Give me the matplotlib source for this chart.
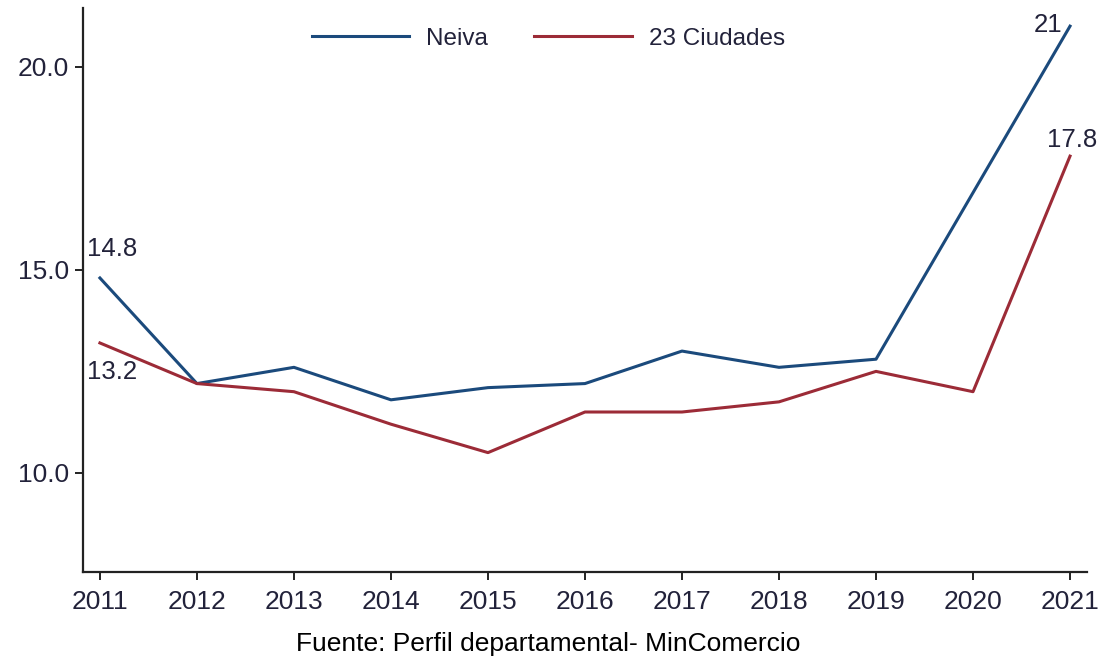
import matplotlib
matplotlib.use("Agg")
import matplotlib.pyplot as plt

# datos
years = [2011, 2012, 2013, 2014, 2015, 2016, 2017, 2018, 2019, 2020, 2021]
neiva = [14.8, 12.2, 12.6, 11.8, 12.1, 12.2, 13.0, 12.6, 12.8, 16.9, 21.0]
ciudades = [13.2, 12.2, 12.0, 11.2, 10.5, 11.5, 11.5, 11.75, 12.5, 12.0, 17.8]
yticks = [10.0, 15.0, 20.0]

plt.rcParams['font.family'] = ['Liberation Sans', 'DejaVu Sans']

fig = plt.figure(figsize=(11.03, 6.56), dpi=100)
ax = fig.add_axes([0.0752, 0.128, 0.9103, 0.86])

azul = '#1b4a7c'
rojo = '#9c2b37'
txt = '#22223a'

ax.plot(years, neiva, color=azul, lw=2.2, label='Neiva')
ax.plot(years, ciudades, color=rojo, lw=2.2, label='23 Ciudades')

ax.set_xlim(2010.825, 2021.175)
ax.set_ylim(7.56, 21.45)
ax.set_xticks(years)
ax.set_yticks(yticks)
ax.set_yticklabels(['%.1f' % v for v in yticks])

for s in ['top', 'right']:
    ax.spines[s].set_visible(False)
for s in ['left', 'bottom']:
    ax.spines[s].set_linewidth(1.6)
    ax.spines[s].set_color('#222222')
ax.tick_params(axis='both', length=6, width=1.4, color='#222222',
               labelsize=19, labelcolor=txt, pad=4)
ax.tick_params(axis='x', pad=7)

# etiquetas de valores
fs = 18.5
ax.annotate('14.8', (years[0], neiva[0]), xytext=(12, 29), textcoords='offset pixels',
            ha='center', va='center', fontsize=fs, color=txt)
ax.annotate('13.2', (years[0], ciudades[0]), xytext=(12, -29), textcoords='offset pixels',
            ha='center', va='center', fontsize=fs, color=txt)
ax.annotate('21', (years[-1], neiva[-1]), xytext=(-22, 1), textcoords='offset pixels',
            ha='center', va='center', fontsize=fs, color=txt)
ax.annotate('17.8', (years[-1], ciudades[-1]), xytext=(2, 16), textcoords='offset pixels',
            ha='center', va='center', fontsize=fs, color=txt)

leg = ax.legend(loc='center', bbox_to_anchor=(0.4636, 0.945), ncol=2, frameon=False,
                fontsize=17.5, handlelength=4.0, handletextpad=0.7, columnspacing=1.9)
for t in leg.get_texts():
    t.set_color(txt)

fig.text(0.497, 0.018, 'Fuente: Perfil departamental- MinComercio', ha='center',
         va='center', fontsize=19, color='black')

fig.savefig('out.png', dpi=100)
